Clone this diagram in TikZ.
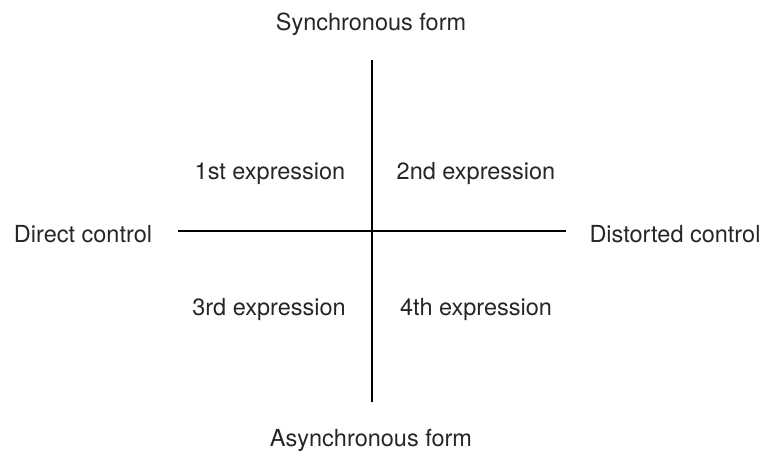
\documentclass[tikz,border=0pt]{standalone}
\usepackage{fontspec}
\setmainfont{TeX Gyre Heros}
\usetikzlibrary{positioning}

\begin{document}
\begin{tikzpicture}[x=1pt, y=-1pt,
  every node/.style={font=\fontsize{23.5}{28}\selectfont, text=black!85, inner sep=0pt},
  axis/.style={line width=2pt}]
\useasboundingbox (0,0) rectangle (766,450);
\coordinate (origin) at (372,231);
\coordinate (top) at (372,60);
\coordinate (bottom) at (372,402);
\coordinate (left) at (178,231);
\coordinate (right) at (566,231);
\node (sync) at (371,24) {Synchronous form};
\node (async) at (371,440) {Asynchronous form};
\node (direct) at (83,234) {Direct control};
\node (distorted) at (675,234) {Distorted control};
\node (first) at (270,174) {1st expression};
\node (second) at (476,173) {2nd expression};
\node (third) at (269,309) {3rd expression};
\node (fourth) at (476,309) {4th expression};
\draw[axis] (top) -- (bottom);
\draw[axis] (left) -- (right);
\end{tikzpicture}
\end{document}
